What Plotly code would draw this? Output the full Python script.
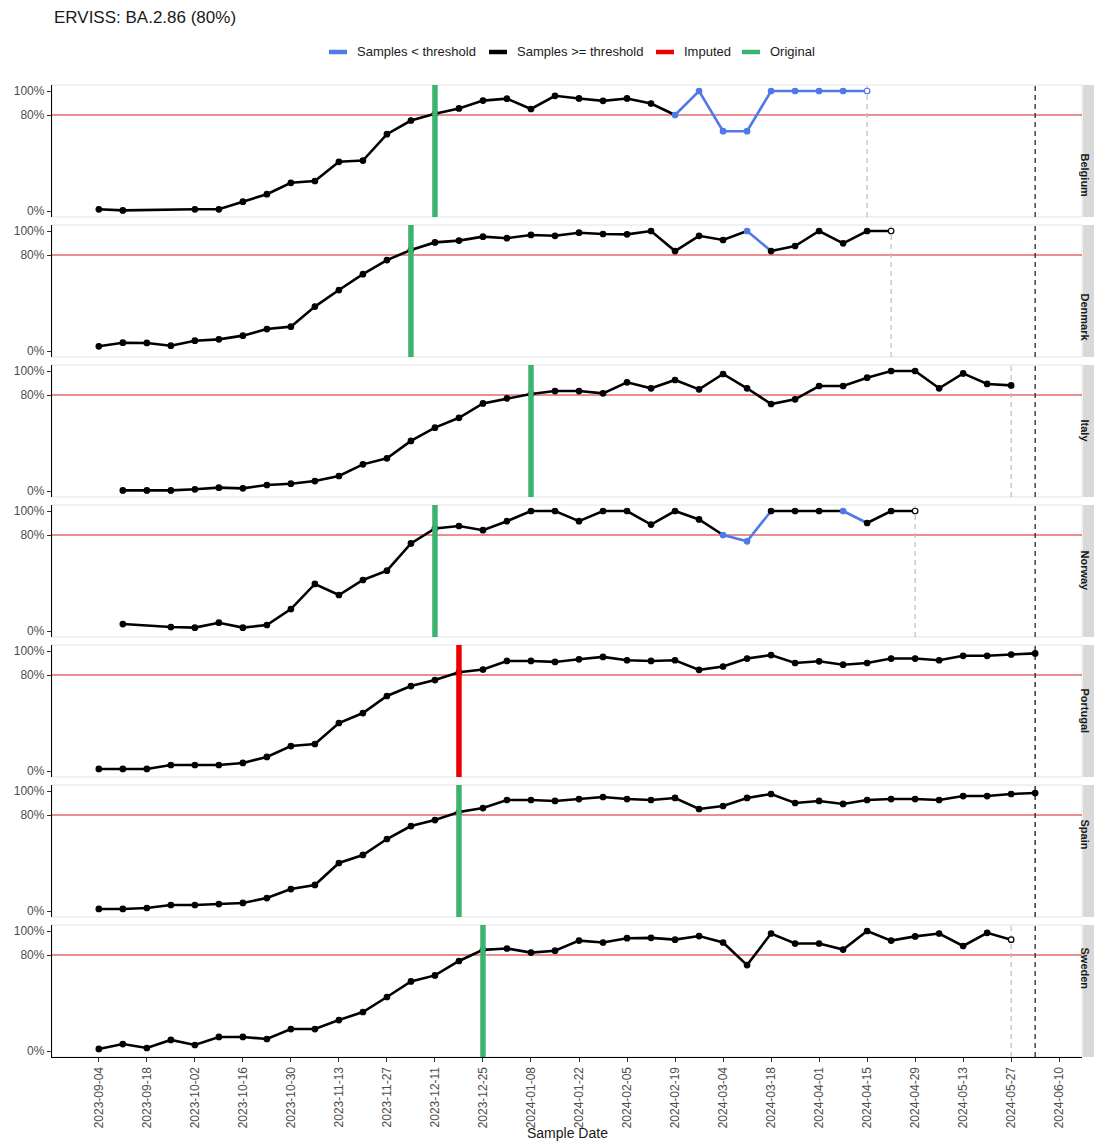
import pandas as pd
import plotly.graph_objects as go

# ---------------- data ----------------
START = pd.Timestamp("2023-09-04")          # week 0
COUNTRIES = ["Belgium", "Denmark", "Italy", "Norway", "Portugal", "Spain", "Sweden"]

BELGIUM_WEEKS = [0, 1] + list(range(4, 33))
BELGIUM_VALS = [1.4, 0.5, 1.4, 1.4, 7.8, 14, 23.5, 25, 41, 42, 64, 75.4, 81, 85.5, 92, 93.6,
                85, 96, 93.8, 91.8, 93.8, 89.6, 80, 100, 66.5, 66.5, 100, 100, 100, 100, 100]

DENMARK_WEEKS = list(range(0, 34))
DENMARK_VALS = [3.9, 6.9, 6.7, 4.4, 8.6, 9.7, 12.8, 18.3, 20.3, 37, 50.8, 64, 75.8, 84.2, 90.5,
                92, 95.3, 94, 96.7, 96, 98.6, 97.5, 97.2, 100, 83.3, 96, 92.5, 100, 83.3, 87.5,
                100, 89.7, 100, 100]

ITALY_WEEKS = list(range(1, 39))
ITALY_VALS = [0.5, 0.5, 0.5, 1.4, 2.8, 2.2, 5, 6.1, 8.3, 12.5, 22.2, 27.2, 41.7, 52.8, 61, 73,
              77.2, 80.8, 83.3, 83.3, 81.4, 90.6, 85.6, 92.5, 84.7, 97.5, 85.6, 72.5, 76.4, 87.5,
              87.5, 94.4, 100, 100, 85.6, 98, 89.2, 88]

NORWAY_WEEKS = [1] + list(range(3, 35))
NORWAY_VALS = [5.8, 3.3, 2.8, 6.9, 2.8, 5, 18.3, 39.2, 30, 42.5, 50.3, 73, 85.5, 87.5, 84, 91.5,
               100, 100, 91.5, 100, 100, 88.7, 100, 93, 80, 74.7, 100, 100, 100, 100, 90, 100, 100]

PORTUGAL_WEEKS = list(range(0, 40))
PORTUGAL_VALS = [1.7, 1.7, 1.7, 5, 5, 5, 6.7, 11.7, 20.8, 22.5, 40, 48.3, 62.5, 70.8, 75.8, 82.3,
                 84.6, 91.7, 91.7, 90.9, 93.1, 95.1, 92.3, 91.7, 92.3, 84.3, 87.1, 93.7, 96.6, 90,
                 91.4, 88.6, 90, 93.7, 93.7, 92.3, 96, 96, 97.1, 98]

SPAIN_WEEKS = list(range(0, 40))
SPAIN_VALS = [1.7, 1.7, 2.5, 5, 5, 5.8, 6.7, 10.8, 18.3, 21.7, 40, 46.7, 60, 70.8, 75.8, 82.5,
              85.8, 92.5, 92.5, 91.7, 93.3, 95, 93.3, 92.5, 94.2, 85, 87.5, 94.2, 97.5, 90,
              91.7, 89.2, 92.5, 93.3, 93.3, 92.5, 95.8, 95.8, 97.5, 98.3]

SWEDEN_WEEKS = list(range(0, 39))
SWEDEN_VALS = [1.7, 5.8, 2.5, 9.2, 5, 11.7, 11.7, 10, 18.3, 18.3, 25.8, 32.5, 45, 58, 63, 75,
               84.3, 85.4, 82, 83.6, 92, 90.4, 94, 94.3, 92.8, 95.8, 90.4, 71.6, 97.9, 89.6,
               89.6, 84.5, 100, 92, 95.5, 97.9, 87.5, 98.5, 92.8]

SERIES = {
    "Belgium": (BELGIUM_WEEKS, BELGIUM_VALS),
    "Denmark": (DENMARK_WEEKS, DENMARK_VALS),
    "Italy": (ITALY_WEEKS, ITALY_VALS),
    "Norway": (NORWAY_WEEKS, NORWAY_VALS),
    "Portugal": (PORTUGAL_WEEKS, PORTUGAL_VALS),
    "Spain": (SPAIN_WEEKS, SPAIN_VALS),
    "Sweden": (SWEDEN_WEEKS, SWEDEN_VALS),
}

# weeks where samples < threshold
BELOW_THRESHOLD = {"Belgium": list(range(24, 33)), "Denmark": [27], "Norway": [26, 27, 31]}
# date the 80% threshold was crossed, and whether it was original or imputed
CROSS_DATE = {"Belgium": "2023-12-11", "Denmark": "2023-12-04", "Italy": "2024-01-08",
              "Norway": "2023-12-11", "Portugal": "2023-12-18", "Spain": "2023-12-18",
              "Sweden": "2023-12-25"}
CROSS_TYPE = {"Belgium": "Original", "Denmark": "Original", "Italy": "Original",
              "Norway": "Original", "Portugal": "Imputed", "Spain": "Original",
              "Sweden": "Original"}
HOLLOW_LAST = {"Belgium", "Denmark", "Norway", "Sweden"}
CUTOFF_DATE = "2024-06-03"
THRESHOLD = 80
TICK_DATES = pd.date_range("2023-09-04", "2024-06-10", freq="14D")

# ---------------- styling ----------------
BLUE = "#4E79E7"
BLACK = "#000000"
RED = "#EE0000"
GREEN = "#3CB371"
OFF = 8                      # page body margin in the browser
W, H = 1102 - OFF, 1144 - OFF
PX_L, PX_R = 52, 1082        # screen pixels
TOP0, PANEL_H, STEP = 85, 132, 140
FONT = "Liberation Sans, Arial, sans-serif"


def fx(px):
    return (px - OFF) / W


def fy(py):
    return 1 - (py - OFF) / H


first = START
last = pd.Timestamp(CUTOFF_DATE)
pad = (last - first) * 0.05
x_range = [(first - pad).isoformat(), (last + pad).isoformat()]

fig = go.Figure()
shapes, annotations = [], []
layout = dict(width=W, height=H, margin=dict(l=0, r=0, t=0, b=0),
              plot_bgcolor="white", paper_bgcolor="white", showlegend=False,
              font=dict(family=FONT, color="#1A1A1A"))

for i, c in enumerate(COUNTRIES):
    suf = "" if i == 0 else str(i + 1)
    xr, yr = "x" + suf, "y" + suf
    top = TOP0 + STEP * i
    bot = top + PANEL_H
    ydom = [fy(bot), fy(top)]
    weeks, vals = SERIES[c]
    dates = [START + pd.Timedelta(days=7 * w) for w in weeks]
    below = set(BELOW_THRESHOLD.get(c, []))
    cols = [BLUE if w in below else BLACK for w in weeks]

    # line segments, coloured by the starting point's category
    run = [0]
    for k in range(1, len(weeks)):
        run.append(k)
        if k == len(weeks) - 1 or cols[k] != cols[run[0]]:
            fig.add_trace(go.Scatter(x=[dates[j] for j in run], y=[vals[j] for j in run],
                                     mode="lines", line=dict(color=cols[run[0]], width=2.6),
                                     xaxis=xr, yaxis=yr, hoverinfo="skip"))
            run = [k]
    fills = list(cols)
    if c in HOLLOW_LAST:
        fills[-1] = "white"
    fig.add_trace(go.Scatter(x=dates, y=vals, mode="markers",
                             marker=dict(size=5.5, color=fills, line=dict(color=cols, width=1.2)),
                             xaxis=xr, yaxis=yr))

    is_last = i == len(COUNTRIES) - 1
    layout["xaxis" + suf] = dict(
        domain=[fx(PX_L), fx(PX_R)], range=x_range, anchor=yr, type="date",
        showgrid=False, zeroline=False, tickvals=list(TICK_DATES),
        ticktext=[d.strftime("%Y-%m-%d") for d in TICK_DATES], tickangle=-90,
        showticklabels=is_last, ticks="outside" if is_last else "", ticklen=4,
        tickcolor="#333333", showline=is_last, linecolor="black", linewidth=1.3,
        tickfont=dict(size=12, color="#4D4D4D"), automargin=False)
    layout["yaxis" + suf] = dict(
        domain=ydom, range=[-5, 105], anchor=xr, tickvals=[0, 80, 100],
        ticktext=["0%", "80%", "100%"], ticks="outside", ticklen=4, tickcolor="#333333",
        showline=True, linecolor="black", linewidth=1.3, showgrid=False, zeroline=False,
        tickfont=dict(size=12, color="#4D4D4D"), automargin=False)

    # panel border
    shapes.append(dict(type="rect", xref="paper", yref="paper", x0=fx(PX_L), x1=fx(PX_R),
                       y0=ydom[0], y1=ydom[1], line=dict(color="#E3E3E3", width=1), layer="below"))
    # strip
    shapes.append(dict(type="rect", xref="paper", yref="paper", x0=fx(PX_R + 1), x1=1.0,
                       y0=ydom[0], y1=ydom[1], fillcolor="#D9D9D9", line=dict(width=0)))
    annotations.append(dict(xref="paper", yref="paper", x=fx((PX_R + 1 + 1102) / 2),
                            y=(ydom[0] + ydom[1]) / 2, text="<b>%s</b>" % c, textangle=90,
                            showarrow=False, font=dict(size=11, color="#1A1A1A")))
    # threshold line
    shapes.append(dict(type="line", xref=xr + " domain", yref=yr, x0=0, x1=1,
                       y0=THRESHOLD, y1=THRESHOLD, line=dict(color="#D42020", width=1.2),
                       layer="below"))
    # last sample date (grey dashed) and cutoff (black dashed)
    shapes.append(dict(type="line", xref=xr, yref=yr + " domain", x0=dates[-1], x1=dates[-1],
                       y0=0, y1=1, line=dict(color="#BDBDBD", width=1.2, dash="5px,4px"),
                       layer="below"))
    shapes.append(dict(type="line", xref=xr, yref=yr + " domain", x0=CUTOFF_DATE, x1=CUTOFF_DATE,
                       y0=0, y1=1, line=dict(color="#333333", width=1.4, dash="5px,4px"),
                       layer="below"))
    # crossing date
    shapes.append(dict(type="line", xref=xr, yref=yr + " domain", x0=CROSS_DATE[c],
                       x1=CROSS_DATE[c], y0=0, y1=1,
                       line=dict(color=GREEN if CROSS_TYPE[c] == "Original" else RED, width=5.5)))

# title
annotations.append(dict(xref="paper", yref="paper", x=fx(PX_L), y=fy(17), xanchor="left",
                        yanchor="middle", text="ERVISS: BA.2.86 (80%)", showarrow=False,
                        font=dict(size=17, color="#1A1A1A")))
# x-axis title
annotations.append(dict(xref="paper", yref="paper", x=fx((PX_L + PX_R) / 2), y=fy(1133),
                        xanchor="center", yanchor="middle", text="Sample Date", showarrow=False,
                        font=dict(size=14, color="#1A1A1A")))
# legend (manual, ggplot-style)
LEGEND = [("Samples < threshold", BLUE, 329), ("Samples >= threshold", BLACK, 489),
          ("Imputed", RED, 656), ("Original", GREEN, 742)]
ly = fy(52)
for label, col, px in LEGEND:
    shapes.append(dict(type="line", xref="paper", yref="paper", x0=fx(px), x1=fx(px + 18),
                       y0=ly, y1=ly, line=dict(color=col, width=4.5)))
    annotations.append(dict(xref="paper", yref="paper", x=fx(px + 26), y=ly, xanchor="left",
                            yanchor="middle", text=label, showarrow=False,
                            font=dict(size=13, color="#1A1A1A")))

layout["shapes"] = shapes
layout["annotations"] = annotations
fig.update_layout(**layout)
fig.write_html("out.html")
